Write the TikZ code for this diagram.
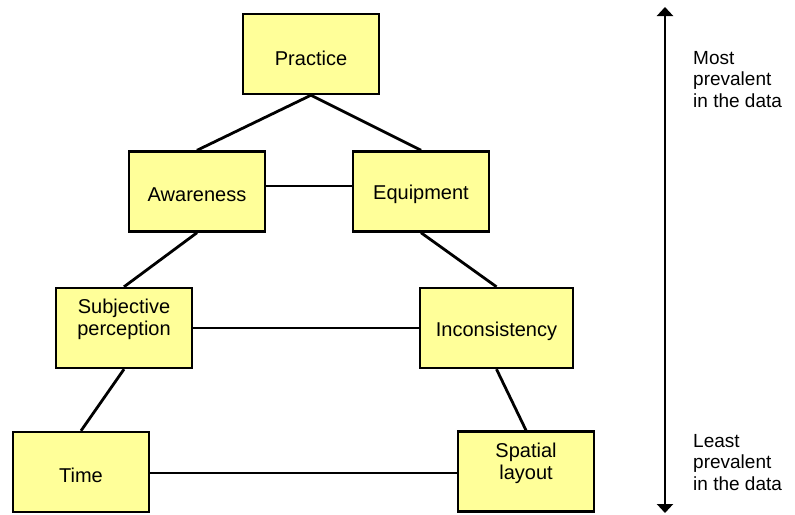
\documentclass[tikz,border=0pt]{standalone}
\usepackage{fontspec}
\setmainfont{Liberation Sans}
\usetikzlibrary{arrows.meta}
\definecolor{boxfill}{RGB}{255,255,153}
\tikzset{
  box/.style={draw=black, fill=boxfill, line width=2.4pt, rectangle,
    minimum width=136pt, minimum height=80pt, inner sep=0pt},
  boxtext/.style={font=\fontsize{20pt}{22pt}\selectfont, align=center, inner sep=0pt},
  sidetext/.style={font=\fontsize{19pt}{21.5pt}\selectfont, align=left, anchor=north west, inner sep=0pt},
  link/.style={line width=2.8pt},
}
\begin{document}
\begin{tikzpicture}[x=1pt,y=-1pt]
  \useasboundingbox (0,0) rectangle (795,514);

  % boxes
  \node[box] (practice)  at (311,54)    {};
  \node[box] (awareness) at (197,191.5) {};
  \node[box] (equipment) at (421,191.5) {};
  \node[box] (subj)      at (124,328)   {};
  \node[box, minimum width=153pt] (incons) at (496.5,328) {};
  \node[box] (time)      at (81,472)    {};
  \node[box] (spatial)   at (526,471.5) {};

  % box labels
  \node[boxtext] (practiceT)  at ([yshift=-4pt]practice.center)  {Practice};
  \node[boxtext] (awarenessT) at ([yshift=-3pt]awareness.center) {Awareness};
  \node[boxtext] (equipmentT) at ([yshift=-3pt]equipment.center) {Equipment};
  \node[boxtext] (subjT)      at ([yshift=9pt]subj.center)       {Subjective\\perception};
  \node[boxtext] (inconsT)    at ([yshift=-3pt]incons.center)    {Inconsistency};
  \node[boxtext] (timeT)      at ([yshift=-3pt]time.center)      {Time};
  \node[boxtext] (spatialT)   at ([yshift=8pt]spatial.center)    {Spatial\\layout};

  % connectors
  \draw[link] (practice.south) -- (awareness.north);
  \draw[link] (practice.south) -- (equipment.north);
  \draw[link] (awareness.east |- 0,186) -- (equipment.west |- 0,186);
  \draw[link] (awareness.south) -- (subj.north);
  \draw[link] (equipment.south) -- (incons.north);
  \draw[link] (subj.east) -- (incons.west);
  \draw[link] (subj.south) -- (time.north);
  \draw[link] (incons.south) -- (spatial.north);
  \draw[link] (time.east |- 0,473) -- (spatial.west |- 0,473);

  % prevalence scale
  \coordinate (top) at (665,7);
  \coordinate (bot) at (665,513);
  \draw[line width=2.4pt, {Triangle[length=9pt,width=16pt]}-{Triangle[length=9pt,width=16pt]}] (top) -- (bot);
  \node[sidetext] (most)  at (693,51)  {Most\\prevalent\\in the data};
  \node[sidetext] (least) at (693,434) {Least\\prevalent\\in the data};
\end{tikzpicture}
\end{document}
